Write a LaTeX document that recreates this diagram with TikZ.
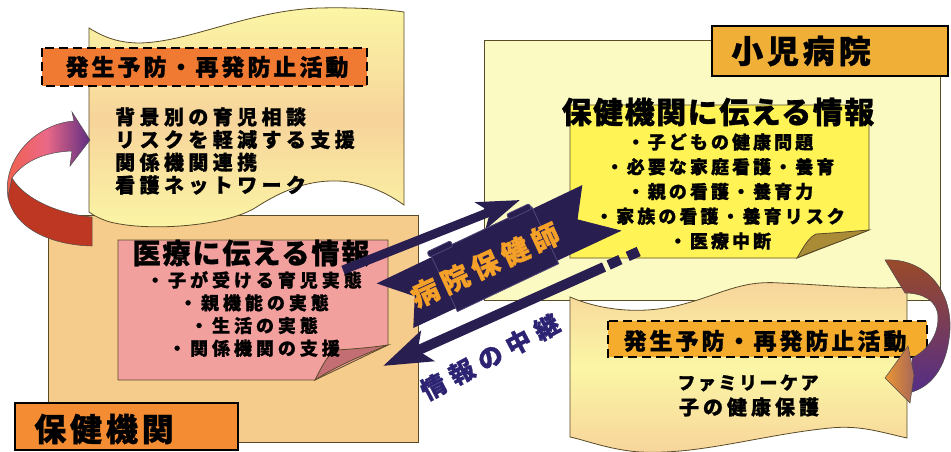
\documentclass[tikz,border=0pt]{standalone}
\usepackage{fontspec}
\newfontfamily\jp{Noto Sans CJK JP}
\usetikzlibrary{arrows.meta}
\definecolor{peach}{RGB}{246,204,140}
\definecolor{notepink}{RGB}{242,160,158}
\definecolor{curlpink}{RGB}{195,110,115}
\definecolor{flagyel}{RGB}{251,246,165}
\definecolor{flagpeach}{RGB}{247,212,155}
\definecolor{orangedash}{RGB}{240,122,50}
\definecolor{orangelab}{RGB}{243,140,50}
\definecolor{ltyellow}{RGB}{252,250,195}
\definecolor{gold}{RGB}{240,175,55}
\definecolor{noteyel}{RGB}{255,243,85}
\definecolor{curlolive}{RGB}{170,140,55}
\definecolor{golddash}{RGB}{245,172,45}
\definecolor{navy}{RGB}{40,30,80}
\definecolor{navyfold}{RGB}{80,70,120}
\definecolor{ribtxt}{RGB}{245,160,40}
\definecolor{navytxt}{RGB}{45,35,115}
\definecolor{edge}{RGB}{90,75,40}
\definecolor{arrred}{RGB}{190,55,35}
\definecolor{arrL}{RGB}{240,95,70}
\definecolor{arrM}{RGB}{235,105,135}
\definecolor{arrR}{RGB}{95,45,130}
\definecolor{arrbrown}{RGB}{155,75,40}
\definecolor{arrpurple}{RGB}{85,45,135}
\definecolor{headorange}{RGB}{235,150,50}
\begin{document}
\begin{tikzpicture}[x=1pt,y=-1pt,
  box/.style={draw=edge,line width=0.8pt},
  dbox/.style={draw=black,line width=2.6pt,dash pattern=on 9pt off 5pt},
  lab/.style={draw=black,line width=1.5pt},
  jf/.style n args={3}{inner sep=0pt,font={\jp\bfseries\fontsize{#1}{#2}\selectfont\addfontfeature{LetterSpace=#3,FakeBold=1}}},
  navyarrow/.style={draw=navy,line width=#1},
]
\useasboundingbox (0,0) rectangle (951,452);

% ===== left side =====
\filldraw[box,fill=peach] (48,215) rectangle (418,442);
\draw[box,top color=flagyel,bottom color=flagyel,middle color=flagpeach]
  (89,28) .. controls (105,38) and (120,43) .. (140,43)
  .. controls (190,42) and (250,10) .. (320,8)
  .. controls (360,7) and (390,10) .. (404,12) -- (404,205)
  .. controls (380,188) and (355,180) .. (330,181)
  .. controls (300,182) and (275,195) .. (255,208)
  .. controls (225,226) and (150,232) .. (110,222)
  .. controls (100,219) and (93,215) .. (89,212) -- cycle;
\filldraw[fill=orangedash,dbox] (42,48) rectangle (367,86);
\node[jf={23}{23}{13}] (t1) at (207,67) {発生予防・再発防止活動};
\node[jf={20}{22.7}{22},anchor=west,align=left] (t2) at (115,151)
  {背景別の育児相談\\リスクを軽減する支援\\関係機関連携\\看護ネットワーク};

\filldraw[box,fill=notepink] (118,240) -- (388,240) -- (388,345) -- (315,380) -- (118,380) -- cycle;
\filldraw[box,fill=curlpink] (315,380) .. controls (322,366) and (328,354) .. (336,350)
  .. controls (355,349) and (375,347) .. (388,345)
  .. controls (360,356) and (335,367) .. (315,380) -- cycle;
\node[jf={28}{28}{7}] (t3) at (251,253) {医療に伝える情報};
\node[jf={18}{22.7}{22},align=center] (t4) at (254,314)
  {・子が受ける育児実態\\・親機能の実態\\・生活の実態\\・関係機関の支援};

\filldraw[fill=orangelab,lab] (15,403) rectangle (238,450);
\node[jf={32}{32}{12}] (t5) at (104,429) {保健機関};

% left curved arrow
\filldraw[fill=arrred,draw=black!70,line width=0.5pt]
  (92,217) .. controls (60,214) and (25,200) .. (12,178) -- (8,197)
  .. controls (14,228) and (50,245) .. (92,246) -- cycle;
\draw[draw=black!70,line width=0.5pt,left color=arrL,right color=arrR,middle color=arrM]
  (8,197) .. controls (2,160) and (35,124) .. (74,121) -- (72,112) -- (90,140)
  -- (70,166) -- (72,151) .. controls (42,152) and (22,163) .. (12,178) -- cycle;

% ===== right side =====
\filldraw[box,fill=ltyellow] (484,40) rectangle (940,300);
\filldraw[fill=gold,lab] (712,26) rectangle (948,76);
\node[jf={32}{32}{12}] (t6) at (801,51) {小児病院};

\filldraw[box,fill=noteyel] (570,105) -- (869,105) -- (869,230) -- (797,258) -- (570,258) -- cycle;
\filldraw[box,fill=curlolive] (797,258) .. controls (803,248) and (808,238) .. (816,234)
  .. controls (835,233) and (855,231) .. (869,230)
  .. controls (845,240) and (815,250) .. (797,258) -- cycle;
\node[jf={30}{30}{5}] (t7) at (718,112) {保健機関に伝える情報};
\node[jf={18}{24.75}{17},align=center] (t8) at (720,191.5)
  {・子どもの健康問題\\・必要な家庭看護・養育\\・親の看護・養育力\\・家族の看護・養育リスク\\・医療中断};

\draw[box,top color=flagpeach,bottom color=flagpeach,middle color=flagyel]
  (570,297) .. controls (600,310) and (640,315) .. (680,305)
  .. controls (720,295) and (740,280) .. (780,283)
  .. controls (830,285) and (870,290) .. (907,287) -- (907,438)
  .. controls (880,432) and (860,425) .. (830,428)
  .. controls (760,435) and (700,455) .. (640,452)
  .. controls (610,450) and (585,440) .. (570,437) -- cycle;
\filldraw[fill=golddash,dbox] (608,321) rectangle (927,357);
\node[jf={23}{23}{13}] (t9) at (765,341) {発生予防・再発防止活動};
\node[jf={18}{18}{14}] (t10) at (748,383) {ファミリーケア};
\node[jf={20}{20}{20}] (t11) at (749,407) {子の健康保護};

% right curved arrow
\draw[draw=black!70,line width=0.5pt,top color=arrbrown,bottom color=arrpurple]
  (885,260) .. controls (925,258) and (952,290) .. (950,330)
  .. controls (948,362) and (935,385) .. (912,392) -- (912,358)
  .. controls (928,350) and (938,335) .. (938,318)
  .. controls (938,300) and (922,293) .. (905,293) -- cycle;
\draw[draw=black!70,line width=0.5pt,left color=headorange,right color=headorange!55!arrpurple]
  (908,346) -- (885,378) -- (910,403) -- (914,375) -- cycle;

% ===== middle: ribbon and arrows =====
\coordinate (ua1) at (343,270);
\coordinate (ua2) at (520,200);
\draw[navyarrow=9pt,-{Stealth[length=42pt,width=28pt,inset=10pt]}] (ua1) -- (ua2);

\begin{scope}[shift={(498,257)},rotate=25.3]
  \fill[navy] (-121,-28) -- (107,-29) -- (88,0) -- (123,29) -- (-107,28) -- (-92,0) -- cycle;
  \filldraw[fill=navy,draw=navyfold,line width=0.8pt] (-60,-31) rectangle (52,32);
  \filldraw[fill=navy,draw=navyfold,line width=0.8pt,rounded corners=2pt] (-62,-35) rectangle (-36,-29);
  \filldraw[fill=navy,draw=navyfold,line width=0.8pt,rounded corners=2pt] (26,-35) rectangle (51,-29);
\end{scope}
\node[jf={28}{28}{18},text=ribtxt,rotate=24.6] (rib) at (485,265) {病院保健師};

\coordinate (la1) at (604,267);
\coordinate (la2) at (383,366);
\draw[navyarrow=10pt,-{Stealth[length=48pt,width=32pt,inset=10pt]}] (la1) -- (la2);
\coordinate (d1a) at (608.6,265);
\coordinate (d1b) at (620.4,259.6);
\coordinate (d2a) at (627.7,256.4);
\coordinate (d2b) at (638.7,251.5);
\draw[navyarrow=10pt] (d1a) -- (d1b);
\draw[navyarrow=10pt] (d2a) -- (d2b);
\node[jf={25}{25}{28},text=navytxt,rotate=27.8] (relay) at (490,357) {情報の中継};
\end{tikzpicture}
\end{document}
